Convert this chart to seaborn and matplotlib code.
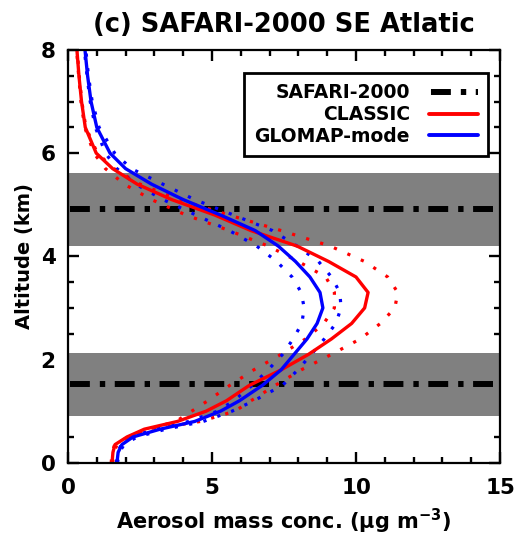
import matplotlib
matplotlib.use("Agg")
import matplotlib.pyplot as plt
import seaborn as sns
import pandas as pd
from matplotlib.lines import Line2D
from matplotlib.ticker import MultipleLocator

# ---------------- data ----------------
altitude = [0, 0.2, 0.35, 0.5, 0.65, 0.8, 1.0, 1.2, 1.5, 1.8, 2.1, 2.4, 2.7, 3.0,
            3.3, 3.6, 3.9, 4.2, 4.5, 4.8, 5.1, 5.4, 5.7, 6.0, 6.5, 7.0, 7.5, 8.0]

classic_mean = [1.53, 1.56, 1.63, 2.05, 2.65, 3.8, 4.8, 5.5, 6.3, 7.4, 8.35, 9.15, 9.85, 10.3,
                10.42, 10.0, 9.05, 7.95, 6.35, 5.1, 3.6, 2.4, 1.55, 0.98, 0.6, 0.47, 0.38, 0.31]
classic_low = [1.5, 1.53, 1.62, 2.1, 2.8, 3.75, 4.3, 4.85, 5.62, 6.45, 7.4, 8.25, 8.88, 9.25,
               9.25, 8.95, 8.0, 6.95, 5.6, 4.1, 2.9, 1.95, 1.3, 0.9, 0.58, 0.45, 0.37, 0.3]
classic_high = [1.55, 1.6, 1.7, 2.1, 2.9, 4.6, 5.8, 6.35, 7.2, 8.1, 9.15, 10.15, 10.85, 11.35,
                11.45, 11.1, 10.3, 9.1, 7.4, 5.6, 3.85, 2.5, 1.6, 1.02, 0.62, 0.48, 0.39, 0.32]

glomap_mean = [1.70, 1.74, 1.87, 2.26, 3.2, 4.4, 5.3, 5.95, 6.75, 7.4, 7.85, 8.3, 8.65, 8.85,
               8.75, 8.4, 7.9, 7.3, 6.5, 5.3, 4.0, 2.9, 2.0, 1.46, 1.0, 0.8, 0.68, 0.59]
glomap_low = [1.68, 1.72, 1.85, 2.2, 3.0, 4.2, 5.2, 5.75, 6.4, 6.95, 7.45, 7.82, 8.12, 8.2,
              8.1, 7.78, 7.25, 6.55, 5.6, 4.45, 3.3, 2.35, 1.7, 1.3, 0.95, 0.77, 0.66, 0.57]
glomap_high = [1.72, 1.78, 1.95, 2.4, 3.4, 4.7, 5.7, 6.45, 7.45, 7.98, 8.45, 8.9, 9.3, 9.48,
               9.44, 9.15, 8.7, 7.95, 7.1, 5.75, 4.4, 3.29, 2.2, 1.62, 1.08, 0.84, 0.71, 0.62]

safari_layer_alt = [1.52, 4.91]          # km, observed layer centres
safari_layer_bottom = [0.91, 4.21]       # km
safari_layer_top = [2.13, 5.61]          # km

legend_labels = ["SAFARI-2000", "CLASSIC", "GLOMAP-mode"]
title = "(c) SAFARI-2000 SE Atlatic"
xlabel = "Aerosol mass conc. (μg m$^{-3}$)"
ylabel = "Altitude (km)"

# ---------------- style ----------------
sns.set_theme(style="white")
plt.rcParams["font.family"] = ["DejaVu Sans"]
plt.rcParams["font.weight"] = "bold"
plt.rcParams["text.color"] = "black"
plt.rcParams["axes.labelcolor"] = "black"
plt.rcParams["xtick.color"] = "black"
plt.rcParams["ytick.color"] = "black"
plt.rcParams["xtick.top"] = True
plt.rcParams["xtick.bottom"] = True
plt.rcParams["ytick.left"] = True
plt.rcParams["ytick.right"] = True
plt.rcParams["xtick.direction"] = "in"
plt.rcParams["ytick.direction"] = "in"
plt.rcParams["mathtext.fontset"] = "custom"
plt.rcParams["mathtext.rm"] = "DejaVu Sans:bold"
plt.rcParams["mathtext.it"] = "DejaVu Sans:bold"
plt.rcParams["mathtext.bf"] = "DejaVu Sans:bold"

fig = plt.figure(figsize=(5.18, 5.34), dpi=100)
ax = fig.add_axes([68 / 518, 1 - 462.7 / 534, 432 / 518, 412.7 / 534])

dashdot = (7.17, (3.33, 1.67, 0.9, 1.6))
dotted = (0, (1, 3.6))

for lo, hi in zip(safari_layer_bottom, safari_layer_top):
    ax.axhspan(lo, hi, color="#808080", lw=0, zorder=1)
for a in safari_layer_alt:
    ax.axhline(a, color="black", lw=4.3, ls=dashdot, zorder=2)

df = pd.DataFrame({
    "altitude": altitude,
    "classic_mean": classic_mean, "classic_low": classic_low, "classic_high": classic_high,
    "glomap_mean": glomap_mean, "glomap_low": glomap_low, "glomap_high": glomap_high,
})

for col, color in [("classic_low", "#ff0000"), ("classic_high", "#ff0000"),
                   ("glomap_low", "#0000ff"), ("glomap_high", "#0000ff")]:
    sns.lineplot(data=df, x=col, y="altitude", orient="y", sort=False, estimator=None,
                 color=color, lw=2.3, ls=dotted, ax=ax, zorder=3)
for col, color in [("classic_mean", "#ff0000"), ("glomap_mean", "#0000ff")]:
    sns.lineplot(data=df, x=col, y="altitude", orient="y", sort=False, estimator=None,
                 color=color, lw=2.4, ax=ax, zorder=4)

ax.set_xlim(0, 15)
ax.set_ylim(0, 8)
ax.xaxis.set_major_locator(MultipleLocator(5))
ax.xaxis.set_minor_locator(MultipleLocator(1))
ax.yaxis.set_major_locator(MultipleLocator(2))
ax.yaxis.set_minor_locator(MultipleLocator(0.5))
ax.tick_params(which="both", direction="in", top=True, right=True, bottom=True, left=True,
               labeltop=False, labelright=False, color="black", width=1.7)
ax.tick_params(which="major", length=8)
ax.tick_params(which="minor", length=4.5)
ax.tick_params(axis="x", which="major", labelsize=15.5, pad=11, labelcolor="black")
ax.tick_params(axis="y", which="major", labelsize=15.5, pad=9, labelcolor="black")
for s in ax.spines.values():
    s.set_color("black")
    s.set_linewidth(1.6)
    s.set_zorder(6)

fig.canvas.draw()
ylabels = ax.get_yticklabels()
ylabels[0].set_va("bottom")
ylabels[-1].set_va("top")

ax.set_xlabel(xlabel, fontsize=15, fontweight="bold", labelpad=6, color="black")
ax.set_ylabel(ylabel, fontsize=14, fontweight="bold", labelpad=5, color="black")
ax.set_title(title, fontsize=18.5, fontweight="bold", pad=13, color="black")

handles = [Line2D([], [], color="black", lw=4.3, ls=dashdot),
           Line2D([], [], color="#ff0000", lw=2.8),
           Line2D([], [], color="#0000ff", lw=2.8)]
leg = ax.legend(handles, legend_labels, loc="upper right", bbox_to_anchor=(0.972, 0.944),
                markerfirst=False, frameon=True, fancybox=False, framealpha=1,
                edgecolor="black", fontsize=13.5, handlelength=2.6, handletextpad=1.0,
                labelspacing=0.15, borderpad=0.55, borderaxespad=0)
leg.get_frame().set_linewidth(2)
leg.set_zorder(10)
for t in leg.get_texts():
    t.set_color("black")

fig.savefig("out.png", dpi=100)
